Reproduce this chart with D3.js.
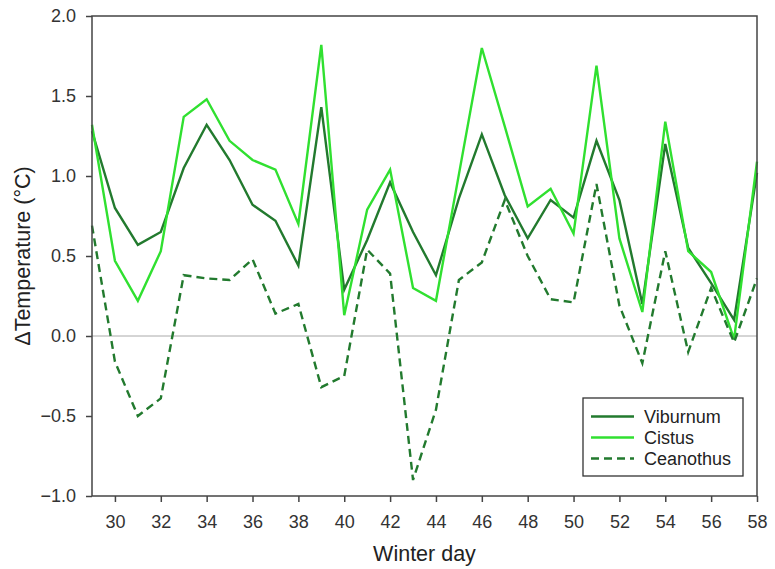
<!DOCTYPE html>
<html>
<head>
<meta charset="utf-8">
<script src="https://cdn.jsdelivr.net/npm/d3@7"></script>
<style>
  body { margin: 0; background: #fff; }
  svg { display: block; font-family: "Liberation Sans", Arial, sans-serif; }
</style>
</head>
<body>
<svg id="chart" width="775" height="569"></svg>
<script>
// Winter days on the x axis
const days = d3.range(29, 59);

// Temperature difference (°C) per species
const viburnum = [1.28, 0.80, 0.57, 0.65, 1.05, 1.32, 1.10, 0.82, 0.72, 0.44,
                  1.43, 0.29, 0.60, 0.96, 0.65, 0.38, 0.86, 1.26, 0.88, 0.61,
                  0.85, 0.74, 1.22, 0.85, 0.20, 1.20, 0.55, 0.33, 0.10, 1.02];
const cistus   = [1.32, 0.47, 0.22, 0.53, 1.37, 1.48, 1.22, 1.10, 1.04, 0.70,
                  1.82, 0.13, 0.79, 1.04, 0.30, 0.22, 1.01, 1.80, 1.31, 0.81,
                  0.92, 0.64, 1.69, 0.61, 0.15, 1.34, 0.53, 0.40, -0.02, 1.09];
const ceanothus = [0.69, -0.16, -0.50, -0.39, 0.38, 0.36, 0.35, 0.48, 0.14, 0.20,
                   -0.32, -0.25, 0.54, 0.39, -0.90, -0.46, 0.35, 0.46, 0.85, 0.50,
                   0.23, 0.21, 0.95, 0.19, -0.17, 0.53, -0.10, 0.30, -0.04, 0.36];

const xTicks = d3.range(30, 59, 2);
const yTicks = [-1.0, -0.5, 0.0, 0.5, 1.0, 1.5, 2.0];

const seriesNames = ["Viburnum", "Cistus", "Ceanothus"];
const seriesValues = [viburnum, cistus, ceanothus];
const seriesColors = ["#227a2e", "#30e030", "#227a2e"];
const seriesDash = [null, null, "8,5"];

const margin = { left: 92, right: 18, top: 16, bottom: 73 };
const W = 775, H = 569;
const svg = d3.select("#chart");

const x = d3.scaleLinear().domain([29, 58]).range([margin.left, W - margin.right]);
const y = d3.scaleLinear().domain([-1, 2]).range([H - margin.bottom, margin.top]);

const frameColor = "#444";

// zero reference line
svg.append("line")
  .attr("x1", x(29)).attr("x2", x(58))
  .attr("y1", y(0)).attr("y2", y(0))
  .attr("stroke", "#aaa").attr("stroke-width", 1);

// series lines
const line = d3.line().x((d, i) => x(days[i])).y(d => y(d));
seriesValues.forEach((vals, k) => {
  svg.append("path")
    .datum(vals)
    .attr("d", line)
    .attr("fill", "none")
    .attr("stroke", seriesColors[k])
    .attr("stroke-width", 2.4)
    .attr("stroke-linejoin", "miter")
    .attr("stroke-dasharray", seriesDash[k]);
});

// frame
svg.append("rect")
  .attr("x", x(29)).attr("y", y(2))
  .attr("width", x(58) - x(29)).attr("height", y(-1) - y(2))
  .attr("fill", "none").attr("stroke", frameColor).attr("stroke-width", 1.5);

// axes
const xAxis = d3.axisBottom(x).tickValues(xTicks).tickFormat(d3.format("d"))
  .tickSize(6).tickPadding(13);
const yAxis = d3.axisLeft(y).tickValues(yTicks).tickFormat(d3.format(".1f"))
  .tickSize(6).tickPadding(10);

const gx = svg.append("g").attr("transform", `translate(0,${y(-1)})`).call(xAxis);
const gy = svg.append("g").attr("transform", `translate(${x(29)},0)`).call(yAxis);
[gx, gy].forEach(g => {
  g.select(".domain").remove();
  g.selectAll(".tick line").attr("stroke", frameColor).attr("stroke-width", 1.5);
  g.selectAll(".tick text").attr("fill", "#333").style("font-size", "18px");
});

// axis titles
svg.append("text")
  .attr("x", (x(29) + x(58)) / 2).attr("y", 561)
  .attr("text-anchor", "middle").attr("fill", "#222")
  .style("font-size", "21.5px").text("Winter day");

svg.append("text")
  .attr("transform", `translate(30,${(y(2) + y(-1)) / 2}) rotate(-90)`)
  .attr("text-anchor", "middle").attr("fill", "#222")
  .style("font-size", "21.5px").text("\u0394Temperature (\u00b0C)");

// legend
const legend = svg.append("g").attr("transform", "translate(583,398)");
legend.append("rect")
  .attr("width", 160).attr("height", 78)
  .attr("fill", "#fff").attr("stroke", "#333").attr("stroke-width", 1.3);
seriesNames.forEach((name, k) => {
  const ly = 18.5 + k * 21;
  legend.append("line")
    .attr("x1", 8).attr("x2", 51).attr("y1", ly).attr("y2", ly)
    .attr("stroke", seriesColors[k]).attr("stroke-width", 2.4)
    .attr("stroke-dasharray", seriesDash[k]);
  legend.append("text")
    .attr("x", 61).attr("y", ly).attr("dy", "0.35em")
    .attr("fill", "#222").style("font-size", "18px").text(name);
});
</script>
</body>
</html>
